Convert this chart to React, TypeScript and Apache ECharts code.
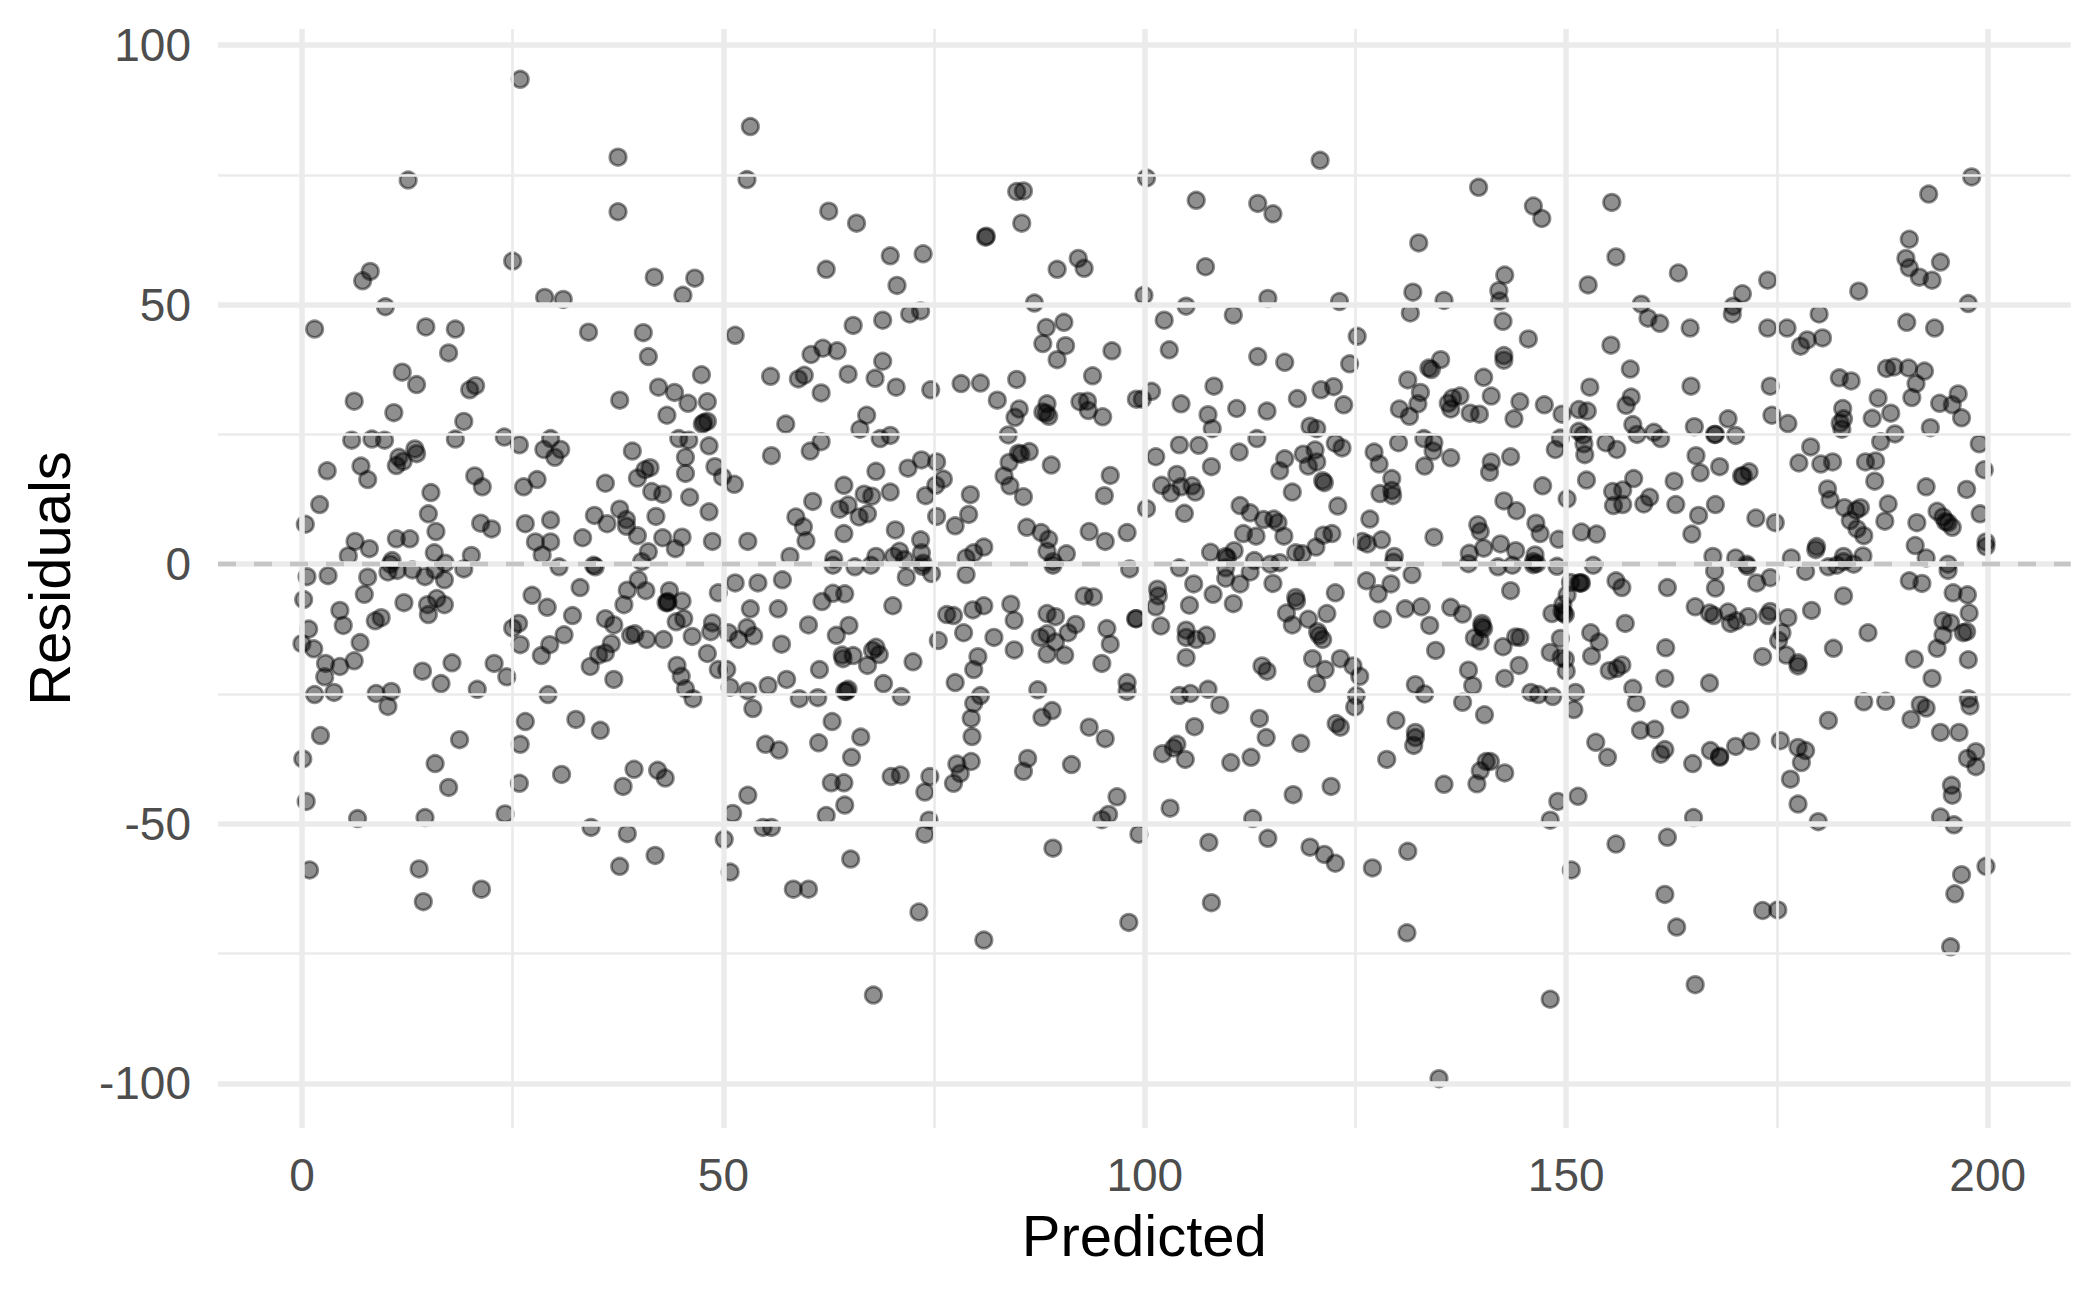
import React, { useEffect, useRef } from "react";
import * as echarts from "echarts";

const xTicks = [0, 50, 100, 150, 200];
const xMinor = [25, 75, 125, 175];
const yTicks = [-100, -50, 0, 50, 100];
const yMinor = [-75, -25, 25, 75];

const upperLeft = [[25.9,93.4],[37.5,78.4],[12.6,74],[37.5,67.9],[25,58.4],[41.8,55.3],[8.1,56.4],[7.2,54.6],[28.8,51.4],[31,51],[45.2,51.8],[46.6,55.1],[9.9,49.6],[1.5,45.3],[14.7,45.7],[18.2,45.3],[34,44.7],[40.5,44.6],[17.4,40.7],[41.1,40],[11.9,37],[13.6,34.6],[20.6,34.4],[19.9,33.6],[42.3,34.1],[44.2,33.1],[6.2,31.4],[37.7,31.6],[10.9,29.2],[43.3,28.7],[45.8,31],[48.1,31.3],[47.4,36.5],[19.2,27.5],[5.9,23.9],[8.3,24.1],[9.8,23.9],[18.2,24.1],[24,24.5],[25.8,23],[29.5,24.2],[28.7,22.1],[30.7,22.1],[30,20.6],[39.2,21.8],[13.4,22.2],[13.6,21.3],[11.5,20.6],[12,19.8],[11.2,19],[3,18],[7,18.9],[7.8,16.3],[20.5,17],[21.4,14.9],[27.9,16.3],[26.3,14.9],[36,15.6],[41.3,18.6],[40.7,18.2],[39.8,16.6],[41.5,14],[42.8,13.5],[44.7,24.2],[45.9,23.9],[48.3,22.8],[45.5,20.6],[45.5,17.5],[49,18.8],[49.9,16.8],[51.3,15.4],[47.7,27.3],[48.1,27.5],[47.5,27],[15.3,13.8],[2.1,11.5],[0.4,7.7],[15,9.7],[34.7,9.4],[37.7,10.6],[38.5,8.6],[38.5,7.3],[36.2,7.8],[42,9.2],[15.9,6.3],[21.2,7.9],[22.5,6.8],[26.5,7.8],[29.5,8.5],[33.3,5.1],[39.8,5.5],[42.8,5.1],[6.3,4.4],[8,3],[11.2,4.9],[12.8,4.9],[27.7,4.3],[29.5,4.3],[28.5,1.8],[44.3,3],[45.1,5.2],[48.7,4.4],[52.9,4.4],[48.3,10.1],[46,12.9],[5.5,1.6],[15.7,2.2],[20.1,1.7],[41.1,2.4],[10.7,0.7],[17,0.2],[40.3,0.5]];

const lowerLeft = [[0.6,-2.4],[3.1,-2.2],[7.8,-2.5],[10.2,-1.5],[11.3,-1.2],[13.1,-1.1],[14.6,-2.4],[15.8,-1.1],[16.9,-3],[10.5,0],[19.2,-0.9],[0.2,-6.8],[7.4,-5.8],[4.5,-8.9],[4.9,-11.8],[12.1,-7.4],[14.9,-7.8],[16,-6.6],[16.9,-7.8],[15,-9.7],[9.4,-10.3],[8.7,-10.9],[27.3,-6],[29.1,-8.3],[33,-4.5],[32.1,-9.9],[25.7,-11.4],[25,-12.3],[25.9,-15.5],[31.1,-13.6],[29.4,-15.5],[28.4,-17.6],[0.8,-12.5],[0,-15.3],[1.4,-16.3],[6.9,-15.1],[6.2,-18.6],[2.8,-19.1],[4.5,-19.7],[2.7,-21.7],[1.5,-25.1],[3.8,-24.7],[8.8,-24.9],[10.6,-24.5],[10.2,-27.4],[14.3,-20.6],[17.8,-19],[16.5,-23],[20.8,-24.1],[22.8,-19.1],[24.3,-21.7],[29.2,-25.1],[26.5,-30.3],[25.9,-34.7],[32.5,-29.9],[35.4,-32],[2.2,-33],[18.7,-33.8],[0.1,-37.5],[15.8,-38.4],[17.4,-43],[25.8,-42.2],[30.8,-40.5],[39.4,-39.5],[42.2,-39.7],[43.1,-41.2],[38.1,-42.8],[0.5,-45.7],[6.6,-49],[14.6,-48.8],[24.1,-48.1],[34.3,-50.7],[38.6,-51.9],[41.9,-56.1],[37.7,-58.2],[0.9,-58.9],[13.9,-58.7],[21.3,-62.6],[14.4,-65],[30.5,-0.5],[34.6,-0.2],[34.8,-0.5],[39.9,-3],[38.6,-5],[40.8,-5.1],[38.2,-7.8],[43.6,-5.1],[43.2,-7.4],[43.4,-7.4],[43.4,-7.2],[44.4,-11.1],[45.1,-7.1],[45.3,-10.5],[36,-10.5],[37,-11.7],[39,-13.7],[39.5,-13.4],[40.9,-14.5],[42.9,-14.5],[36.7,-15.3],[36,-17.1],[35.2,-17.5],[34.2,-19.7],[37,-22.2],[44.5,-19.5],[45,-21.6],[45.5,-24],[46.4,-25.9]];

const lowerMidLeft = [[46.3,-13.9],[48.1,-17.2],[48.7,-11.3],[48.5,-13],[49.4,-5.5],[51.4,-3.6],[54.1,-3.6],[57,-3],[53.2,-8.6],[56.5,-8.6],[50.6,-13.2],[52.8,-12.2],[51.8,-14.5],[53.6,-13.8],[56.9,-15.4],[49.4,-20.3],[50.4,-20.3],[50.8,-23.7],[52.9,-24.4],[55.3,-23.4],[57.5,-22.2],[53.5,-27.8],[59,-25.9],[61.2,-25.7],[60.1,-11.7],[61.7,-7.2],[63,-5.6],[64.4,-5.7],[63.4,-13.7],[64.9,-11.8],[61.4,-20.3],[64.1,-17.5],[64.2,-18.2],[65.4,-17.6],[67.1,-19.5],[67.7,-16.6],[68.1,-16],[68.5,-17.4],[70.1,-8],[71.7,-2.5],[74.7,-1.8],[78.8,-2],[72.5,-18.8],[69,-23],[71.1,-25.5],[64.6,-24.5],[64.8,-24.1],[64.4,-24.5],[62.9,-30.3],[61.3,-34.4],[66.3,-33.3],[65.2,-37.2],[55,-34.7],[56.6,-35.8],[62.8,-42.1],[64.3,-42.1],[64.4,-46.4],[62.2,-48.4],[52.9,-44.5],[51.1,-48],[54.7,-50.7],[55.7,-50.7],[50.1,-53],[50.8,-59.3],[58.3,-62.6],[60.1,-62.6],[65.1,-56.8],[67.8,-83],[69.9,-40.9],[71,-40.6],[74.5,-40.9],[73.9,-43.9],[74.4,-49.3],[73.9,-52],[73.2,-67],[80.9,-72.4],[89.1,-54.7],[98.1,-69],[96.7,-44.8],[95.7,-48.2],[94.9,-49.2],[77.7,-38.5],[79.4,-38],[78.1,-40.3],[77.3,-42.2],[79.5,-33.2],[79.4,-29.7],[79.7,-26.8],[80.5,-25.3],[77.5,-22.8],[79.7,-20.3],[80.2,-17.8],[75.5,-14.7],[78.5,-13.2],[76.5,-9.7],[77.3,-9.9],[79.6,-8.8],[80.9,-8],[82.1,-14.1],[84.1,-7.7],[84.5,-10.8],[84.5,-16.5],[87.3,-24.2],[87.8,-29.5],[89,-28.2],[86.1,-37.4],[85.6,-39.9],[91.3,-38.6],[93.4,-31.4],[95.3,-33.6],[88.4,-9.5],[89.4,-10.1],[87.6,-14.1],[88.4,-13.4],[89.4,-15],[88.4,-17.3],[90.5,-17.5],[90.9,-13.2],[91.8,-11.6],[92.8,-6.1],[93.9,-6.3],[95.5,-12.4],[95.9,-15.4],[94.9,-19.1],[97.9,-22.8],[97.9,-24.5],[98.9,-10.5],[98.2,-0.9],[89.1,-0.2],[73.6,-0.4],[67.5,-0.2],[65.6,-0.5],[63,-0.2]];

const upperMidLeft = [[53.2,84.3],[52.8,74.1],[62.5,68],[65.8,65.7],[62.2,56.8],[69.8,59.4],[73.7,59.8],[70.6,53.7],[72.1,48.2],[73.4,48.8],[68.9,47],[65.4,46],[51.4,44.1],[61.8,41.6],[60.4,40.4],[63.5,41.1],[68.9,39.1],[64.8,36.6],[68,35.8],[70.5,34.1],[55.6,36.2],[59.6,36.4],[58.9,35.7],[61.6,33],[74.6,33.6],[78.2,34.8],[80.5,34.9],[84.8,35.6],[82.5,31.6],[93.8,36.3],[96.1,41.1],[89.6,39.4],[90.6,42.1],[87.9,42.5],[88.3,45.6],[90.4,46.6],[86.9,50.3],[89.6,56.8],[92.1,58.9],[92.8,57],[84.8,71.8],[85.6,71.9],[85.4,65.7],[81.1,63],[81.2,63.2],[57.4,27],[55.7,20.9],[61.6,23.6],[60.3,21.8],[67,28.7],[66.2,26],[68.6,24.2],[69.8,24.8],[68.1,17.9],[71.9,18.5],[73.5,20.1],[75.3,19.7],[76.1,16.4],[75.2,15.2],[74,13.2],[79.3,13.4],[79.1,9.6],[75.3,9.2],[77.5,7.4],[64.3,15.2],[66.7,13.5],[67.6,13.1],[69.8,13.9],[60.6,12.1],[64.8,11.4],[63.8,10.6],[67.1,9.7],[66.1,9.1],[58.6,9.1],[59.5,7.2],[59.8,4.5],[64.3,5.9],[70.4,6.6],[73.4,4.7],[80.9,3.3],[79.7,2.2],[78.8,1.2],[73.5,2.2],[70.9,2.5],[70.2,1.5],[71.5,0.9],[68.1,1.5],[57.9,1.5],[63.1,1],[73.7,0.2],[83.8,24.9],[84.6,28.3],[85.1,29.9],[88.4,30.9],[87.9,29.3],[88.3,29.1],[88.6,28.5],[92.3,31.3],[93.2,31.4],[93.3,29.6],[95,28.4],[86.3,21.7],[85.3,21.2],[85,21.4],[83.9,19.6],[88.9,19.1],[83.3,17],[84,15.1],[85.6,13],[95.9,17.1],[95.2,13.2],[86,7.1],[87.7,6.1],[88.6,4.8],[88.4,2.5],[90.7,2],[89.1,0.5],[93.4,6.3],[95.3,4.4],[97.9,6.1]];

const upperMidRight = [[120.8,77.8],[100.2,74.4],[106.1,70.1],[113.4,69.5],[115.2,67.5],[139.6,72.6],[146.1,69],[147.1,66.6],[132.5,61.9],[107.2,57.3],[142.7,55.7],[142,52.7],[142.1,50.7],[142.5,46.8],[152.6,53.8],[131.8,52.4],[135.5,50.8],[131.5,48.4],[99.9,51.8],[104.9,49.7],[102.3,47],[110.5,48],[114.6,51.2],[123.1,50.6],[125.2,43.9],[145.5,43.4],[102.9,41.3],[113.4,40],[116.6,38.9],[124.3,38.6],[135.1,39.4],[133.7,37.8],[134,37.5],[131.2,35.5],[142.6,40.2],[142.6,39.3],[140.2,36],[108.2,34.3],[120.9,33.6],[122.4,34.2],[100.8,33.3],[99.7,31.8],[99,31.8],[104.3,30.9],[110.9,30],[114.5,29.5],[118.1,31.9],[123.6,30.7],[132.7,33.1],[132.4,30.9],[130.2,29.9],[131.4,28.5],[137.4,32.4],[136.5,32],[136,31],[136.3,29.9],[141.1,32.4],[144.5,31.3],[147.4,30.7],[138.6,29.1],[139.7,28.9],[143.8,28],[149.5,28.9],[151.5,29.8],[152.5,29.5],[107.5,28.8],[108,26.1],[119.6,26.6],[120.4,26.1],[113.3,24.2],[104.1,23],[106.4,22.9],[101.3,20.7],[111.2,21.6],[107.9,18.8],[122.6,23.3],[123.4,22.4],[130.1,23.4],[127.2,21.6],[127.8,19.3],[133.1,24.2],[134.3,23.4],[134.2,21.8],[136.3,20.5],[133.2,18.9],[120.2,22],[118.8,21.2],[120.4,19.7],[119.4,18.9],[116.6,20.3],[116,18],[151.5,25.6],[152,24.9],[152.1,23.2],[152.2,21.1],[149.3,24.3],[148.7,22.1],[143.4,20.7],[141.1,19.7],[140.9,17.7],[147.2,15.1],[152.4,16.2],[150.1,12.6],[103.8,17.3],[102,15.2],[103.1,13.7],[104.3,14.9],[105.6,15.1],[106,13.9],[121.1,16.1],[121.3,15.7],[117.5,13.9],[129.3,16.5],[127.9,13.6],[129.3,14.2],[129.4,13.2],[122.9,11.2],[100.2,10.7],[104.7,9.8],[111.3,11.3],[112.5,9.9],[114.1,8.6],[115.3,8.7],[115.8,8],[126.7,8.7],[142.6,12.2],[144.1,10.3],[139.5,7.6],[139.8,6.3],[146.4,7.9],[146.9,5.9],[149.1,4.8],[151.8,6.2],[153.6,5.8],[111.7,5.9],[113.2,5.4],[116.5,5.4],[121.2,5.6],[122.2,5.9],[120.3,3.3],[117.9,2.2],[118.7,2],[125.8,4.4],[126.4,3.9],[128.1,4.7],[134.3,5.2],[140.2,3.1],[142.2,3.9],[144,2.6],[138.5,2.1],[129.6,1.5],[107.8,2.3],[110.6,2.6],[109.6,1.5],[109.8,1.2],[113,0.7],[114.9,0],[116,0.3],[146.3,1.8],[146.1,0.5],[152.8,34.1]];

const lowerMidRight = [[104.1,-0.7],[109.6,-0.7],[109.6,-2.7],[111.3,-3.8],[112.5,-1.5],[115.2,-3.7],[105.8,-3.8],[108.1,-5.8],[110.5,-7.6],[105.3,-7.9],[101.5,-4.8],[101.6,-6.1],[101.3,-8.2],[99,-10.5],[101.9,-11.9],[104.9,-12.7],[104.9,-14.1],[106.1,-14.5],[107.3,-13.7],[104.9,-18],[117.9,-6.4],[118,-7.1],[122.6,-5.5],[121.6,-9.5],[116.8,-9.4],[119.4,-10.6],[117.5,-11.7],[120.5,-13],[120.7,-13.7],[121.1,-14.5],[113.9,-19.6],[114.5,-20.6],[119.9,-18.2],[121.4,-20.3],[120.4,-23],[123.2,-18.2],[124.7,-19.6],[125.5,-21.6],[125.1,-25.3],[124.9,-27.5],[126.3,-3.2],[127.7,-5.7],[129.2,-3.8],[131.7,-2],[128.2,-10.6],[130.9,-8.6],[132.8,-8.2],[133.8,-11.8],[134.5,-16.6],[136.3,-8.3],[137.7,-9.6],[140,-11.4],[140,-12],[140.2,-12.4],[139.1,-14.2],[139.8,-14.8],[142.5,-15.9],[144,-14],[144.5,-14.1],[143.4,-5.1],[138.4,-20.4],[138.9,-23.4],[144.4,-19.5],[142.7,-22],[132.1,-23.2],[133.2,-25],[137.7,-26.6],[140.3,-29],[145.8,-24.7],[146.7,-25.1],[148.4,-25.5],[151.1,-24.7],[150.9,-28],[129.8,-30.1],[132.1,-32.4],[132.1,-33.4],[131.9,-34.9],[128.7,-37.6],[135.5,-42.4],[141,-38],[140.5,-38],[139.8,-39.8],[139.4,-42.3],[142.7,-40.2],[122.7,-30.7],[123.2,-31.4],[118.5,-34.5],[114.4,-33.4],[113.6,-29.7],[112.6,-37.2],[110.2,-38.2],[105.9,-31.3],[108.9,-27.1],[107.5,-24.1],[105.4,-24.9],[104.1,-25.3],[103.8,-34.7],[103.4,-35.4],[102.1,-36.5],[104.8,-37.6],[103,-47],[112.8,-49],[122.1,-42.8],[117.6,-44.4],[99.3,-52],[107.6,-53.6],[114.6,-52.8],[119.6,-54.5],[121.3,-55.9],[122.6,-57.6],[127,-58.5],[131.2,-55.3],[131.1,-71],[107.9,-65.2],[134.9,-99.1],[148.1,-83.8],[150.6,-58.9],[151.4,-44.7],[149,-45.7],[148.1,-49.3],[153.5,-34.3],[150.5,-3.5],[151.5,-3.6],[151.7,-3.6],[151.8,-3.6],[150.1,-5.9],[149.6,-7.8],[148.3,-9.5],[149.5,-9.1],[149.7,-9.4],[149.9,-9.7],[149.3,-14.3],[148.1,-17],[149.4,-18],[149.9,-18.3],[150,-20.6],[152.9,-13.2],[153.9,-15],[153,-17.7],[141.9,-0.5],[143.6,-0.2],[146.1,-0.1],[146.5,0.1],[148.9,-0.4],[153.2,-0.2],[138.4,0.1],[129.5,0.4]];

const upperRight = [[155.4,69.7],[155.9,59.2],[163.3,56.1],[158.9,50.1],[159.7,47.4],[161.1,46.4],[164.7,45.5],[155.3,42.2],[157.6,37.6],[157.7,32.2],[157.1,30.6],[164.8,34.3],[157.9,26.9],[158.4,25],[160.4,25.4],[161.2,24.2],[154.7,23.4],[156,22.1],[165.2,26.5],[169.2,28],[167.6,25],[167.7,25],[170.1,24.8],[165.4,20.9],[165.9,17.6],[168.2,18.8],[162.8,16],[158,16.5],[156.7,14.3],[155.5,14],[156.7,11.5],[155.6,11.3],[159.9,12.9],[159.2,11.6],[163,11.5],[167.7,11.5],[165.7,9.4],[164.9,5.8],[172.5,8.9],[174.8,8],[167.4,1.5],[170.1,1.2],[171.4,0],[170.8,17],[171,17],[171.7,17.8],[173.9,54.7],[170.9,52.1],[169.8,49.7],[169.7,48.2],[184.7,52.6],[180,48.2],[173.9,45.5],[176.2,45.5],[180.4,43.6],[178.6,43.2],[177.8,42],[174.2,34.3],[174.4,28.7],[176.3,27.1],[182.4,35.9],[183.8,35.3],[182.8,30],[182.9,28],[182.5,27.2],[182.7,26],[187,32],[188.5,29.1],[186.3,28.1],[189,25.1],[187.3,23.6],[179,22.6],[177.6,19.5],[180.2,19.3],[181.6,19.7],[185.5,19.7],[186.7,19.9],[186.6,16],[181,14.5],[181.3,12.4],[183,10.9],[184.9,10.9],[184.4,10.4],[183.7,8.4],[184.5,6.8],[185.3,5.5],[188.2,11.6],[187.8,8.3],[179.7,3.4],[179.6,2.8],[182.9,1.5],[185.2,1.6],[176.7,1.2],[190.7,62.6],[190.3,58.9],[190.7,57.1],[191.9,55.3],[193.4,54.7],[194.4,58.2],[193,71.3],[198.1,74.6],[197.7,50.2],[190.4,46.6],[193.7,45.5],[188,37.7],[188.9,38],[190.6,37.8],[192.5,37.2],[191.5,34.8],[191,32.1],[196.5,32.8],[194.3,31],[195.8,30.7],[196.9,28.2],[193.2,26.3],[199,23.2],[199.6,18.2],[192.7,14.9],[197.5,14.4],[194,10.2],[194.7,9.1],[195,8.2],[195.3,8],[195.8,7.1],[199.1,9.7],[191.6,8],[199.8,4.3],[199.8,3.4],[191.4,3.6],[192.7,1.2],[195.3,0]];

const lowerRight = [[155.9,-3.2],[156.6,-4.5],[162,-4.5],[167.6,-1.3],[167.7,-4.6],[171.5,-0.4],[172.6,-3.6],[174.2,-2.6],[178.4,-1.4],[165.3,-8.2],[167,-9.4],[167.5,-9.9],[169.2,-9.2],[169.5,-11.4],[170.2,-10.9],[171.6,-10.1],[174.2,-9.1],[173.9,-9.9],[176.3,-10.3],[179.1,-8.9],[182.9,-6.1],[181.1,-0.5],[182.1,-0.2],[182.9,0.5],[184.1,0],[157,-11.4],[161.8,-16.1],[175.6,-13.2],[175.2,-14.7],[173.3,-17.8],[176.1,-17.5],[177.5,-19],[177.5,-19.6],[181.7,-16.2],[185.8,-13.2],[156.6,-19.4],[156,-20.1],[155.1,-20.5],[161.7,-22],[167,-22.9],[157.9,-23.9],[158.3,-26.7],[163.5,-28],[158.8,-32],[160.5,-31.8],[154.9,-37.2],[161.7,-35.7],[161.2,-36.6],[165,-38.4],[167.1,-35.9],[168.2,-37],[168.2,-37.2],[170.1,-35.1],[171.9,-34.1],[175.4,-34],[177.5,-35.3],[178.4,-35.9],[177.9,-38.2],[176.6,-41.4],[177.5,-46.2],[179.9,-49.6],[181.1,-30.1],[185.3,-26.5],[187.9,-26.4],[192,-27],[192.7,-27.7],[190.9,-29.9],[194.4,-32.4],[196.6,-32.4],[198.6,-36.1],[197.6,-37.4],[198.6,-39],[195.7,-42.6],[195.8,-44.5],[194.4,-48.7],[196,-50.2],[199.8,-58.2],[196.9,-59.8],[196.1,-63.5],[195.6,-73.7],[165.1,-48.8],[162,-52.6],[155.9,-53.9],[161.7,-63.6],[163.1,-69.9],[165.3,-81],[173.3,-66.7],[175.1,-66.6],[190.7,-3.2],[192.2,-3.7],[195.3,-1.2],[195.9,-5.5],[197.6,-5.9],[197.8,-9.4],[194.7,-10.9],[195.6,-11.3],[194.7,-13.7],[197.1,-13.2],[197.5,-13],[194,-16.2],[191.3,-18.3],[197.7,-18.4],[193.4,-22],[197.7,-25.9],[197.9,-27.3]];

const allPoints = [...upperLeft, ...lowerLeft, ...lowerMidLeft, ...upperMidLeft, ...upperMidRight, ...lowerMidRight, ...upperRight, ...lowerRight];

const gridColor = "#ebebeb";
const labelColor = "#4d4d4d";

function guideLines(xs: number[], ys: number[], width: number) {
  return {
    type: "scatter",
    data: [],
    z: 1,
    silent: true,
    markLine: {
      silent: true,
      symbol: "none",
      label: { show: false },
      animation: false,
      lineStyle: { color: gridColor, width, type: "solid" },
      data: [...xs.map((v) => ({ xAxis: v })), ...ys.map((v) => ({ yAxis: v }))],
    },
  };
}

export default function App() {
  const ref = useRef<HTMLDivElement>(null);
  useEffect(() => {
    document.body.style.margin = "0";
    const chart = echarts.init(ref.current!, undefined, { renderer: "svg" });
    chart.setOption({
      animation: false,
      backgroundColor: "#ffffff",
      textStyle: { fontFamily: "Liberation Sans" },
      grid: { left: 218, right: 29.3, top: 29, bottom: 169, containLabel: false, outerBoundsMode: "none" },
      xAxis: {
        type: "value",
        min: -9.96,
        max: 209.85,
        name: "Predicted",
        nameLocation: "middle",
        nameGap: 78,
        nameTextStyle: { fontSize: 58, color: "#000000", fontFamily: "Liberation Sans" },
        axisLine: { show: false },
        axisTick: { show: false, customValues: xTicks },
        splitLine: { show: false },
        axisLabel: { customValues: xTicks, color: labelColor, fontSize: 46, margin: 24, fontFamily: "Liberation Sans", hideOverlap: false },
      },
      yAxis: {
        type: "value",
        min: -108.6,
        max: 103.1,
        name: "Residuals",
        nameLocation: "middle",
        nameGap: 140,
        nameTextStyle: { fontSize: 58, color: "#000000", fontFamily: "Liberation Sans" },
        axisLine: { show: false },
        axisTick: { show: false, customValues: yTicks },
        splitLine: { show: false },
        axisLabel: { customValues: yTicks, color: labelColor, fontSize: 46, margin: 27, fontFamily: "Liberation Sans", hideOverlap: false },
      },
      series: [
        guideLines(xMinor, yMinor, 2.7),
        guideLines(xTicks, yTicks, 5.5),
        {
          type: "scatter",
          z: 3,
          data: allPoints,
          symbol: "circle",
          symbolSize: 16.5,
          silent: true,
          itemStyle: {
            color: "rgba(0,0,0,0.55)",
            borderColor: "rgba(0,0,0,0.55)",
            borderWidth: 2.8,
          },
        },
        {
          type: "scatter",
          z: 4,
          data: [],
          silent: true,
          markLine: {
            silent: true,
            symbol: "none",
            label: { show: false },
            animation: false,
            lineStyle: { color: "rgba(190,190,190,0.85)", width: 4.4, type: [18, 18] },
            data: [{ yAxis: 0 }],
          },
        },
      ],
    });
    return () => chart.dispose();
  }, []);
  return <div ref={ref} style={{ width: 2100, height: 1297 }} />;
}
